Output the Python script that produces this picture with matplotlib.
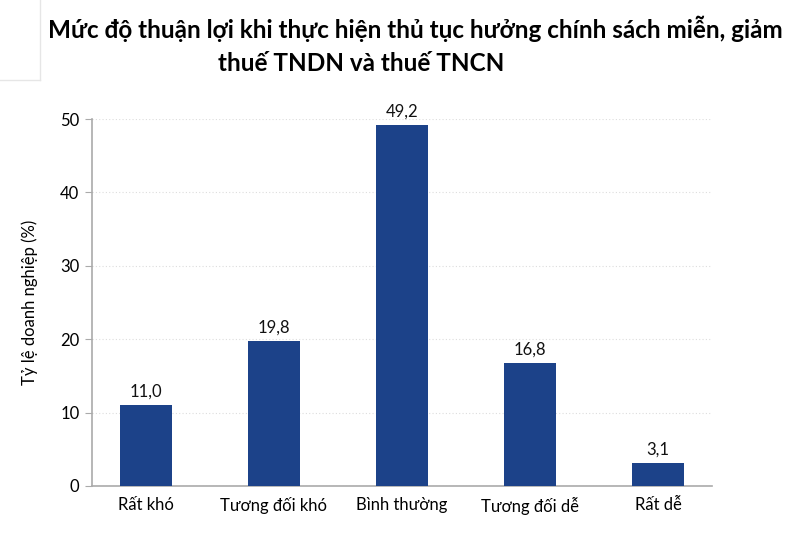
import matplotlib
matplotlib.use('Agg')
import matplotlib.pyplot as plt
from matplotlib.lines import Line2D

# data
categories = ['Rất khó', 'Tương đối khó', 'Bình thường', 'Tương đối dễ', 'Rất dễ']
values = [11.0, 19.8, 49.2, 16.8, 3.1]
labels = ['11,0', '19,8', '49,2', '16,8', '3,1']
yticks = [0, 10, 20, 30, 40, 50]

plt.rcParams['font.family'] = ['Lato', 'DejaVu Sans']

fig = plt.figure(figsize=(8, 5.34), dpi=100)
ax = fig.add_axes([0.115, 0.09, 0.775, 0.687])

x = range(len(categories))
bars = ax.bar(x, values, width=0.41, color='#1c4289', zorder=3)
for b, lab in zip(bars, labels):
    ax.text(b.get_x() + b.get_width() / 2, b.get_height() + 0.7, lab,
            ha='center', va='bottom', fontsize=12, color='#111111')

ax.set_xlim(-0.42, 4.42)
ax.set_ylim(0, 50)
ax.set_yticks(yticks)
ax.set_xticks(list(x))
ax.set_xticklabels(categories, fontsize=12)
ax.tick_params(axis='y', labelsize=12, length=5, color='#aaaaaa', pad=4)
ax.tick_params(axis='x', length=0, pad=8)
ax.yaxis.grid(True, linestyle=(0, (1, 2)), color='#dddddd', linewidth=0.8, zorder=0)
for s in ['top', 'right']:
    ax.spines[s].set_visible(False)
ax.spines['left'].set_color('#aaaaaa')
ax.spines['bottom'].set_color('#aaaaaa')
ax.spines['left'].set_linewidth(1.2)
ax.spines['bottom'].set_linewidth(1.2)
ax.set_ylabel('Tỷ lệ doanh nghiệp (%)', fontsize=12, labelpad=16)

fig.text(0.06, 0.929, 'Mức độ thuận lợi khi thực hiện thủ tục hưởng chính sách miễn, giảm',
         fontsize=17.5, fontweight='bold', ha='left', va='baseline')
fig.text(0.272, 0.867, 'thuế TNDN và thuế TNCN',
         fontsize=17.5, fontweight='bold', ha='left', va='baseline')

# faint frame in the top-left corner
fig.add_artist(Line2D([0.05, 0.05], [1.0, 0.85], transform=fig.transFigure,
                      color='#e6e6e6', linewidth=1))
fig.add_artist(Line2D([0.0, 0.05], [0.85, 0.85], transform=fig.transFigure,
                      color='#e6e6e6', linewidth=1))

fig.savefig('out.png', dpi=100)
